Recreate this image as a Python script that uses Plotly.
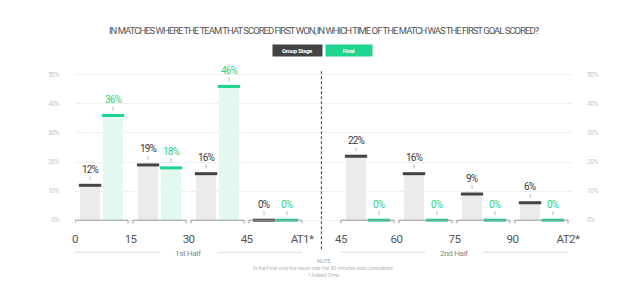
import plotly.graph_objects as go

periods = ["0-15", "15-30", "30-45", "AT1", "45-60", "60-75", "75-90", "AT2"]
group_stage = [12, 19, 16, 0, 22, 16, 9, 6]
final = [36, 18, 46, 0, 0, 0, 0, 0]
tick_labels = ["0", "15", "30", "45", "AT1*", "45", "60", "75", "90", "AT2*"]
y_ticks = [0, 10, 20, 30, 40, 50]
halves = ["1st Half", "2nd Half"]

DARK = "#444444"
GREEN = "#1ed48e"
GRAY_FILL = "#ebebeb"
GREEN_FILL = "#e3f8ef"
FONT = "Roboto, sans-serif"

def cond(t, ls=-0.6):
    return f'<span style="letter-spacing:{ls}px">{t}</span>'

W, H = 640, 293
ML, MR, MT, MB = 75, 68, 69.2, 67.2
PW, PH = W - ML - MR, H - MT - MB

def px(x):
    return (x - ML) / PW

def py(y):
    return (H - MB - y) / PH

GW = 0.914      # group bracket width (units)
HALF_GAP = 0.586
BW = 0.345
starts = [i + (HALF_GAP if i >= 4 else 0) for i in range(len(periods))]
x_gray = [s + 0.26 for s in starts]
x_green = [s + 0.655 for s in starts]

fig = go.Figure()
fig.add_bar(x=x_gray, y=group_stage, width=BW, marker_color=GRAY_FILL,
            marker_line_width=0, showlegend=False, hoverinfo="skip")
fig.add_bar(x=x_green, y=final, width=BW, marker_color=GREEN_FILL,
            marker_line_width=0, showlegend=False, hoverinfo="skip")

def top_lines(xs, vals):
    lx, ly = [], []
    for x, v in zip(xs, vals):
        lx += [x - BW / 2 - 0.02, x + BW / 2 + 0.02, None]
        ly += [v, v, None]
    return lx, ly

for xs, vals, col in [(x_gray, group_stage, DARK), (x_green, final, GREEN)]:
    lx, ly = top_lines(xs, vals)
    fig.add_scatter(x=lx, y=ly, mode="lines", line=dict(color=col, width=3),
                    showlegend=False, hoverinfo="skip", cliponaxis=False)

# brackets
bx, by = [], []
for s in starts:
    bx += [s, s, s + GW, s + GW, None]
    by += [-1.1, 0, 0, -1.1, None]
fig.add_scatter(x=bx, y=by, mode="lines", line=dict(color="#999999", width=1),
                showlegend=False, hoverinfo="skip")

# invisible trace for right axis
fig.add_scatter(x=[0], y=[0], yaxis="y2", mode="markers", marker_opacity=0,
                showlegend=False, hoverinfo="skip")

annotations = []
for xs, vals, col in [(x_gray, group_stage, "#3a3a3a"), (x_green, final, GREEN)]:
    for x, v in zip(xs, vals):
        annotations.append(dict(x=x, y=v, xref="x", yref="y", text=cond(f"{v}%", -0.9),
                                showarrow=True, arrowhead=0, arrowwidth=0.8,
                                arrowcolor="#aaaaaa", ax=0, ay=-16, standoff=5,
                                font=dict(family=FONT, size=10, color=col)))

# x tick label positions
tick_x = [starts[0]]
for i in range(3):
    tick_x.append((starts[i] + GW + starts[i + 1]) / 2)
tick_x.append(starts[3] + GW)
tick_x.append(starts[4])
for i in range(4, 7):
    tick_x.append((starts[i] + GW + starts[i + 1]) / 2)
tick_x.append(starts[7] + GW)

# halves labels
half_y = py(252)
left_mid = (starts[0] + starts[3] + GW) / 2
right_mid = (starts[4] + starts[7] + GW) / 2
for xm, lab in [(left_mid, halves[0]), (right_mid, halves[1])]:
    annotations.append(dict(x=xm, y=py(253), xref="x", yref="paper", text=cond(lab, -0.3),
                            xanchor="center", yanchor="middle",
                            showarrow=False, font=dict(family=FONT, size=8, color="#888888")))

shapes = []
for a, b in [(starts[0], left_mid - 0.5), (left_mid + 0.5, starts[3] + GW),
             (starts[4], right_mid - 0.5), (right_mid + 0.5, starts[7] + GW)]:
    shapes.append(dict(type="line", xref="x", yref="paper", x0=a, x1=b,
                       y0=half_y, y1=half_y, line=dict(color="#dddddd", width=1)))
mid_x = (starts[3] + GW + starts[4]) / 2
shapes.append(dict(type="line", xref="x", yref="paper", x0=mid_x, x1=mid_x,
                   y0=py(249), y1=py(70), line=dict(color="#555555", width=1.2, dash="3px,2px")))

# notes
notes = [("NOTE", 261, "#aaaaaa"),
         ("In the Final only the result over the 90 minutes was considered.", 268, "#bbbbbb"),
         ("* Added Time", 275, "#bbbbbb")]
for t, yy, c in notes:
    annotations.append(dict(x=px(323), y=py(yy), xref="paper", yref="paper", text=cond(t, -0.2),
                            xanchor="center", yanchor="middle",
                            showarrow=False, font=dict(family=FONT, size=5.5, color=c)))

# title and legend boxes
annotations.append(dict(x=px(324), y=py(31), xref="paper", yref="paper",
                        text=cond("IN MATCHES WHERE THE TEAM THAT SCORED FIRST WON, IN WHICH TIME OF THE MATCH WAS THE FIRST GOAL SCORED?", -1.0),
                        xanchor="center", yanchor="middle",
                        showarrow=False, font=dict(family=FONT, size=9.5, color="#555555")))
annotations.append(dict(x=px(297.5), y=py(50.5), xref="paper", yref="paper",
                        text="<b>" + cond("Group Stage", -0.3) + "</b>", showarrow=False, width=47, height=9,
                        xanchor="center", yanchor="middle",
                        borderpad=1, bgcolor=DARK,
                        font=dict(family=FONT, size=6, color="white")))
annotations.append(dict(x=px(349), y=py(50.5), xref="paper", yref="paper",
                        text="<b>" + cond("Final", -0.3) + "</b>", showarrow=False, width=44, height=9,
                        xanchor="center", yanchor="middle",
                        borderpad=1, bgcolor=GREEN,
                        font=dict(family=FONT, size=6, color="white")))

yaxis_common = dict(range=[-2, 52], tickvals=y_ticks, ticktext=[cond(f"{v}%", -0.4) for v in y_ticks],
                    tickfont=dict(family=FONT, size=6.5, color="#c8c8c8"),
                    showline=False, zeroline=False, ticks="")

fig.update_layout(
    width=W, height=H,
    margin=dict(l=ML, r=MR, t=MT, b=MB),
    paper_bgcolor="white", plot_bgcolor="white",
    barmode="overlay",
    xaxis=dict(range=[0, 8.57], tickvals=tick_x, ticktext=[cond(t, -0.6) for t in tick_labels],
               showgrid=False, zeroline=False, showline=False, ticks="",
               ticklabelstandoff=4,
               tickfont=dict(family=FONT, size=11.5, color="#555555")),
    yaxis=dict(**yaxis_common, showgrid=True, gridcolor="#f0f0f0", gridwidth=1,
               ticklabelstandoff=15),
    yaxis2=dict(**yaxis_common, overlaying="y", side="right", showgrid=False,
                ticklabelstandoff=14),
    annotations=annotations,
    shapes=shapes,
)

fig.write_html("out.html")
